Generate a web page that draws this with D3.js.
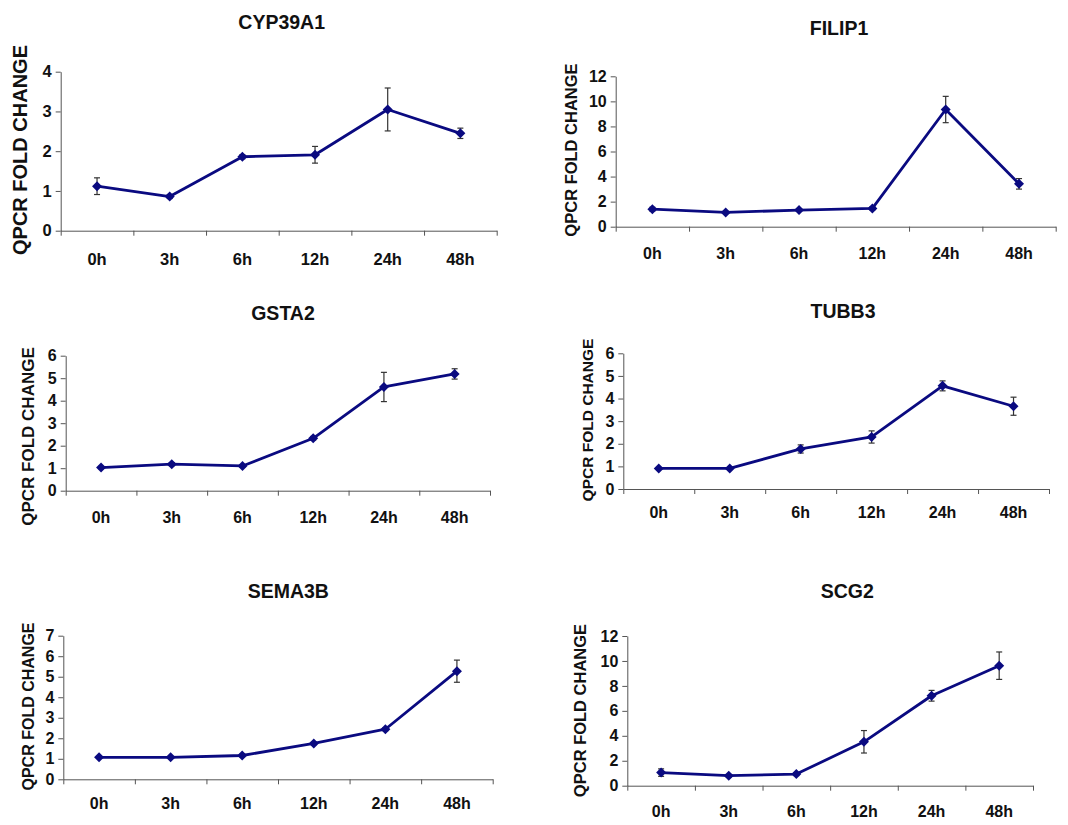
<!DOCTYPE html>
<html>
<head>
<meta charset="utf-8">
<script src="https://cdn.jsdelivr.net/npm/d3@7"></script>
<style>
  html, body { margin: 0; padding: 0; background: #fff; }
  svg { display: block; }
  text { font-family: "Liberation Sans", Arial, Helvetica, sans-serif; font-weight: bold; fill: #111; }
</style>
</head>
<body>
<svg id="chart" width="1068" height="825"></svg>
<script>
// Time points shared by every gene
const timepoints = ["0h", "3h", "6h", "12h", "24h", "48h"];
const genes = ["CYP39A1", "FILIP1", "GSTA2", "TUBB3", "SEMA3B", "SCG2"];

// Mean qPCR fold change per gene
const cyp39a1Mean = [1.12, 0.86, 1.86, 1.91, 3.05, 2.45];
const filip1Mean  = [1.40, 1.14, 1.33, 1.46, 9.35, 3.42];
const gsta2Mean   = [1.03, 1.18, 1.10, 2.33, 4.61, 5.19];
const tubb3Mean   = [0.91, 0.91, 1.77, 2.30, 4.56, 3.66];
const sema3bMean  = [1.07, 1.07, 1.16, 1.75, 2.44, 5.27];
const scg2Mean    = [1.05, 0.80, 0.93, 3.52, 7.21, 9.62];

// Error bar half-widths
const cyp39a1Err = [0.21, 0.05, 0.05, 0.21, 0.54, 0.13];
const filip1Err  = [0.15, 0.08, 0.10, 0.12, 1.05, 0.42];
const gsta2Err   = [0.05, 0.07, 0.05, 0.08, 0.65, 0.23];
const tubb3Err   = [0.04, 0.04, 0.18, 0.27, 0.22, 0.40];
const sema3bErr  = [0.04, 0.04, 0.06, 0.06, 0.07, 0.54];
const scg2Err    = [0.30, 0.10, 0.12, 0.90, 0.43, 1.10];

// Y axis ranges and tick steps
const yMax  = [4, 12, 6, 6, 7, 12];
const yStep = [1, 2, 1, 1, 1, 2];

const means  = [cyp39a1Mean, filip1Mean, gsta2Mean, tubb3Mean, sema3bMean, scg2Mean];
const errors = [cyp39a1Err, filip1Err, gsta2Err, tubb3Err, sema3bErr, scg2Err];

// Panel geometry on the page
const layout = [
  { left: 60.7,  right: 496.7,  top: 71.7,  bottom: 230.7, titleX: 281.7, titleY: 28.7,  labelX: 20,  labelY: 150,   labelSize: 20,   xLabelY: 264.5, tickSize: 16.5, xSize: 16.5 },
  { left: 615.7, right: 1055.7, top: 76.3,  bottom: 226.7, titleX: 839,   titleY: 35,    labelX: 571, labelY: 150,   labelSize: 16.5, xLabelY: 258.5, tickSize: 16, xSize: 16 },
  { left: 65.7,  right: 490,    top: 355.7, bottom: 490.7, titleX: 283,   titleY: 319.7, labelX: 28,  labelY: 436.5, labelSize: 17,   xLabelY: 523,   tickSize: 16, xSize: 16 },
  { left: 623.3, right: 1049,   top: 353.3, bottom: 489,   titleX: 843,   titleY: 317.7, labelX: 587, labelY: 420,   labelSize: 15.5, xLabelY: 518,   tickSize: 16, xSize: 16 },
  { left: 63.3,  right: 492.7,  top: 635.7, bottom: 779.3, titleX: 288.3, titleY: 597.7, labelX: 28,  labelY: 706.5, labelSize: 16,   xLabelY: 809,   tickSize: 16, xSize: 16 },
  { left: 627.3, right: 1033,   top: 636,   bottom: 785.7, titleX: 847.3, titleY: 597.7, labelX: 580, labelY: 710.5, labelSize: 16.5, xLabelY: 817,   tickSize: 16, xSize: 16 }
];

const svg = d3.select("#chart");
const lineColor = "#0a0a80";
const axisColor = "#555";

genes.forEach((gene, i) => {
  const L = layout[i];
  const g = svg.append("g");
  const data = timepoints.map((t, k) => ({ t, v: means[i][k], e: errors[i][k] }));

  const x = d3.scaleBand().domain(timepoints).range([L.left, L.right]).padding(0);
  const xEdge = d3.scaleLinear().domain([0, timepoints.length]).range([L.left, L.right]);
  const y = d3.scaleLinear().domain([0, yMax[i]]).range([L.bottom, L.top]);

  // Y axis
  const yAxis = g.append("g")
    .attr("transform", `translate(${L.left},0)`)
    .call(d3.axisLeft(y)
      .tickValues(d3.range(0, yMax[i] + 0.001, yStep[i]))
      .tickFormat(d3.format("d"))
      .tickSize(5).tickPadding(4).tickSizeOuter(0));
  yAxis.attr("font-family", null).attr("font-size", null);
  yAxis.select(".domain").attr("stroke", axisColor);
  yAxis.selectAll(".tick line").attr("stroke", axisColor);
  yAxis.selectAll(".tick text").attr("font-size", L.tickSize).attr("fill", "#111");

  // X axis: boundary ticks between categories
  const xAxis = g.append("g")
    .attr("transform", `translate(0,${L.bottom})`)
    .call(d3.axisBottom(xEdge).tickValues(d3.range(0, timepoints.length + 1)).tickFormat("").tickSize(5).tickSizeOuter(0));
  xAxis.select(".domain").attr("stroke", axisColor);
  xAxis.selectAll(".tick line").attr("stroke", axisColor);

  // Category labels
  g.selectAll(".xlab")
    .data(timepoints)
    .join("text")
    .attr("class", "xlab")
    .attr("x", d => x(d) + x.bandwidth() / 2)
    .attr("y", L.xLabelY)
    .attr("text-anchor", "middle")
    .attr("font-size", L.xSize)
    .text(d => d);

  // Title
  g.append("text")
    .attr("x", L.titleX)
    .attr("y", L.titleY)
    .attr("text-anchor", "middle")
    .attr("font-size", 19.5)
    .text(gene);

  // Y axis label
  g.append("text")
    .attr("transform", `translate(${L.labelX},${L.labelY}) rotate(-90)`)
    .attr("text-anchor", "middle")
    .attr("dy", "0.36em")
    .attr("font-size", L.labelSize)
    .text("QPCR FOLD CHANGE");

  const cx = d => x(d.t) + x.bandwidth() / 2;

  // Error bars
  const eb = g.append("g").attr("stroke", "#333").attr("stroke-width", 1.2);
  eb.selectAll(".ev").data(data).join("line")
    .attr("x1", cx).attr("x2", cx)
    .attr("y1", d => y(d.v + d.e)).attr("y2", d => y(d.v - d.e));
  eb.selectAll(".ct").data(data).join("line")
    .attr("x1", d => cx(d) - 3).attr("x2", d => cx(d) + 3)
    .attr("y1", d => y(d.v + d.e)).attr("y2", d => y(d.v + d.e));
  eb.selectAll(".cb").data(data).join("line")
    .attr("x1", d => cx(d) - 3).attr("x2", d => cx(d) + 3)
    .attr("y1", d => y(d.v - d.e)).attr("y2", d => y(d.v - d.e));

  // Mean line
  g.append("path")
    .datum(data)
    .attr("fill", "none")
    .attr("stroke", lineColor)
    .attr("stroke-width", 2.8)
    .attr("stroke-linejoin", "round")
    .attr("d", d3.line().x(cx).y(d => y(d.v)));

  // Diamond markers
  g.selectAll(".pt").data(data).join("path")
    .attr("transform", d => `translate(${cx(d)},${y(d.v)}) rotate(45)`)
    .attr("d", d3.symbol(d3.symbolSquare, 50))
    .attr("fill", lineColor);
});
</script>
</body>
</html>
